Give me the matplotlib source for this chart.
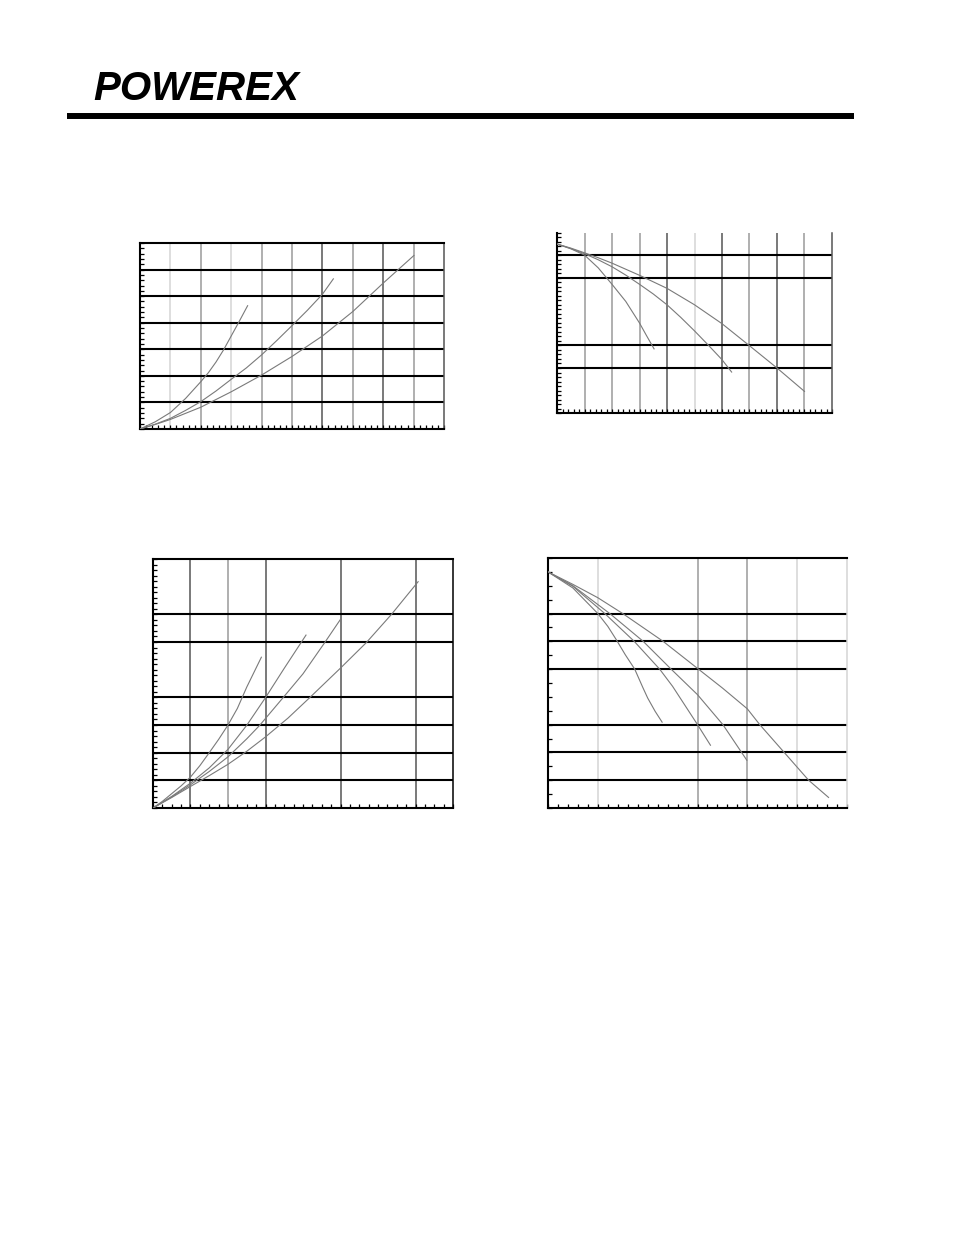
import matplotlib
matplotlib.use("Agg")
import matplotlib.pyplot as plt
import numpy as np

W, H = 954, 1235

# ---------------- data ----------------
# Chart 1 (top-left): x 0..10, y 0..7
c1_a_x = [0, 0.5, 1.0, 1.5, 2.0, 2.25, 2.5, 2.75, 3.0, 3.25, 3.54]
c1_a_y = [0, 0.27, 0.62, 1.15, 1.78, 2.12, 2.52, 2.98, 3.5, 4.02, 4.64]
c1_b_x = [0, 0.5, 1.0, 1.5, 2.0, 2.5, 3.0, 3.5, 4.0, 4.5, 5.0, 5.5, 6.0, 6.36]
c1_b_y = [0, 0.18, 0.4, 0.7, 1.03, 1.43, 1.87, 2.3, 2.79, 3.33, 3.89, 4.46, 5.07, 5.65]
c1_c_x = [0, 0.5, 1.0, 2.0, 3.0, 4.0, 5.0, 6.0, 7.0, 8.0, 9.01]
c1_c_y = [0, 0.17, 0.36, 0.82, 1.4, 2.03, 2.73, 3.5, 4.42, 5.49, 6.53]

# Chart 2 (top-right): x 0..10, y 0..8
c2_a_x = [0, 0.5, 1.0, 1.5, 2.0, 2.5, 3.0, 3.25, 3.53]
c2_a_y = [7.51, 7.3, 7.02, 6.45, 5.72, 4.96, 4.0, 3.45, 2.85]
c2_b_x = [0, 0.5, 1.0, 1.5, 2.0, 2.5, 3.0, 3.5, 4.0, 4.5, 5.0, 5.5, 6.0, 6.35]
c2_b_y = [7.51, 7.31, 7.08, 6.81, 6.5, 6.13, 5.72, 5.29, 4.81, 4.25, 3.65, 3.02, 2.37, 1.82]
c2_c_x = [0, 0.5, 1.0, 1.5, 2.0, 3.0, 4.0, 5.0, 6.0, 7.0, 8.0, 9.0]
c2_c_y = [7.51, 7.33, 7.12, 6.9, 6.66, 6.12, 5.54, 4.81, 3.97, 2.99, 2.0, 0.96]

# Chart 3 (bottom-left): x 0..8, y 0..9
c3_a_x = [0, 0.25, 0.5, 0.75, 1.0, 1.25, 1.5, 1.75, 2.0, 2.25, 2.5, 2.89]
c3_a_y = [0, 0.24, 0.52, 0.8, 1.12, 1.53, 2.0, 2.48, 3.0, 3.6, 4.37, 5.45]
c3_b_x = [0, 0.5, 1.0, 1.5, 2.0, 2.5, 3.0, 3.5, 4.08]
c3_b_y = [0, 0.42, 0.9, 1.45, 2.12, 2.99, 3.99, 5.05, 6.25]
c3_c_x = [0, 0.5, 1.0, 1.5, 2.0, 2.5, 2.84, 3.47, 4.0, 4.58, 5.01]
c3_c_y = [0, 0.4, 0.84, 1.32, 1.85, 2.5, 2.98, 3.99, 4.85, 5.98, 6.84]
c3_d_x = [0, 0.5, 1.0, 1.5, 2.0, 2.5, 3.0, 3.6, 4.18, 5.01, 5.69, 6.36, 7.07]
c3_d_y = [0, 0.38, 0.78, 1.17, 1.58, 2.05, 2.57, 3.25, 3.99, 5.07, 5.98, 7.0, 8.18]

# Chart 4 (bottom-right): x 0..6, y 0..9
c4_a_x = [0, 0.5, 1.0, 1.2, 1.37, 1.55, 1.74, 1.9, 2.0, 2.15, 2.29]
c4_a_y = [8.5, 7.92, 7.0, 6.54, 6.06, 5.52, 5.0, 4.35, 3.96, 3.48, 3.09]
c4_b_x = [0, 0.5, 1.14, 1.73, 2.24, 2.5, 2.99, 3.26]
c4_b_y = [8.5, 7.98, 7.0, 6.0, 5.0, 4.38, 3.03, 2.26]
c4_c_x = [0, 0.5, 1.24, 1.91, 2.47, 3.0, 3.51, 3.99]
c4_c_y = [8.5, 8.0, 7.0, 6.0, 5.0, 4.08, 3.0, 1.72]
c4_d_x = [0, 0.5, 1.0, 1.5, 2.31, 2.99, 3.5, 4.0, 4.25, 4.74, 5.23, 5.63]
c4_d_y = [8.5, 8.05, 7.57, 7.0, 6.0, 5.04, 4.32, 3.57, 3.0, 2.0, 1.0, 0.38]

DARK, GRAY, LIGHT = "#555555", "#9a9a9a", "#d4d4d4"
CURVE = "#7a7a7a"

fig = plt.figure(figsize=(W / 100, H / 100), dpi=100)
fig.patch.set_facecolor("white")


def add_axes(l, r, t, b):
    return fig.add_axes([l / W, 1 - b / H, (r - l) / W, (b - t) / H])


def setup(ax, xmax, ymax, xstep, ystep, vlines, hlines, right_color, top=True):
    ax.set_xlim(0, xmax)
    ax.set_ylim(0, ymax)
    ax.set_xticks(np.arange(0, xmax + 1e-9, xstep))
    ax.set_yticks(np.arange(0, ymax + 1e-9, ystep))
    ax.tick_params(direction="in", length=3, width=0.9, color="black",
                   labelleft=False, labelbottom=False)
    for xv, col in vlines:
        ax.axvline(xv, color=col, lw=1.1, zorder=1)
    for yv in hlines:
        ax.axhline(yv, color="black", lw=1.5, zorder=2)
    ax.spines["left"].set_linewidth(1.5)
    ax.spines["bottom"].set_linewidth(1.5)
    ax.spines["right"].set_color(right_color)
    ax.spines["right"].set_linewidth(1.1)
    if top:
        ax.spines["top"].set_linewidth(1.5)
    else:
        ax.spines["top"].set_visible(False)


def curves(ax, pairs):
    for xs, ys in pairs:
        ax.plot(xs, ys, color=CURVE, lw=0.8, zorder=3)


# Chart 1
ax1 = add_axes(140, 444, 243, 429)
setup(ax1, 10, 7, 0.2, 0.2,
      list(zip(range(1, 10), [LIGHT, GRAY, LIGHT, GRAY, GRAY, DARK, GRAY, DARK, GRAY])),
      [1, 2, 3, 4, 5, 6], DARK)
curves(ax1, [(c1_a_x, c1_a_y), (c1_b_x, c1_b_y), (c1_c_x, c1_c_y)])

# Chart 2
ax2 = add_axes(557, 832, 233, 413)
setup(ax2, 10, 8, 0.2, 0.2,
      list(zip(range(1, 10), [GRAY, GRAY, GRAY, DARK, LIGHT, DARK, GRAY, DARK, GRAY])),
      [2, 3, 6, 7], DARK, top=False)
curves(ax2, [(c2_a_x, c2_a_y), (c2_b_x, c2_b_y), (c2_c_x, c2_c_y)])

# Chart 3
ax3 = add_axes(153, 453, 559, 808)
setup(ax3, 8, 9, 0.25, 0.2,
      [(1, DARK), (2, GRAY), (3, DARK), (5, DARK), (7, DARK)],
      [1, 2, 3, 4, 6, 7], "black")
curves(ax3, [(c3_a_x, c3_a_y), (c3_b_x, c3_b_y), (c3_c_x, c3_c_y), (c3_d_x, c3_d_y)])

# Chart 4
ax4 = add_axes(548, 847, 558, 808)
setup(ax4, 6, 9, 0.2, 0.5,
      [(1, LIGHT), (3, GRAY), (4, GRAY), (5, LIGHT)],
      [1, 2, 3, 5, 6, 7], LIGHT)
curves(ax4, [(c4_a_x, c4_a_y), (c4_b_x, c4_b_y), (c4_c_x, c4_c_y), (c4_d_x, c4_d_y)])

# Header: logo text and thick rule
fig.text(93 / W, 1 - 100 / H, "POWEREX",
         family=["Liberation Sans", "DejaVu Sans"],
         weight="bold", style="italic", fontsize=29, color="black",
         ha="left", va="baseline")
fig.add_artist(plt.Line2D([67 / W, 854 / W], [1 - 115.5 / H, 1 - 115.5 / H],
                          color="black", lw=4.3, solid_capstyle="butt"))

fig.savefig("out.png", dpi=100, facecolor="white")
